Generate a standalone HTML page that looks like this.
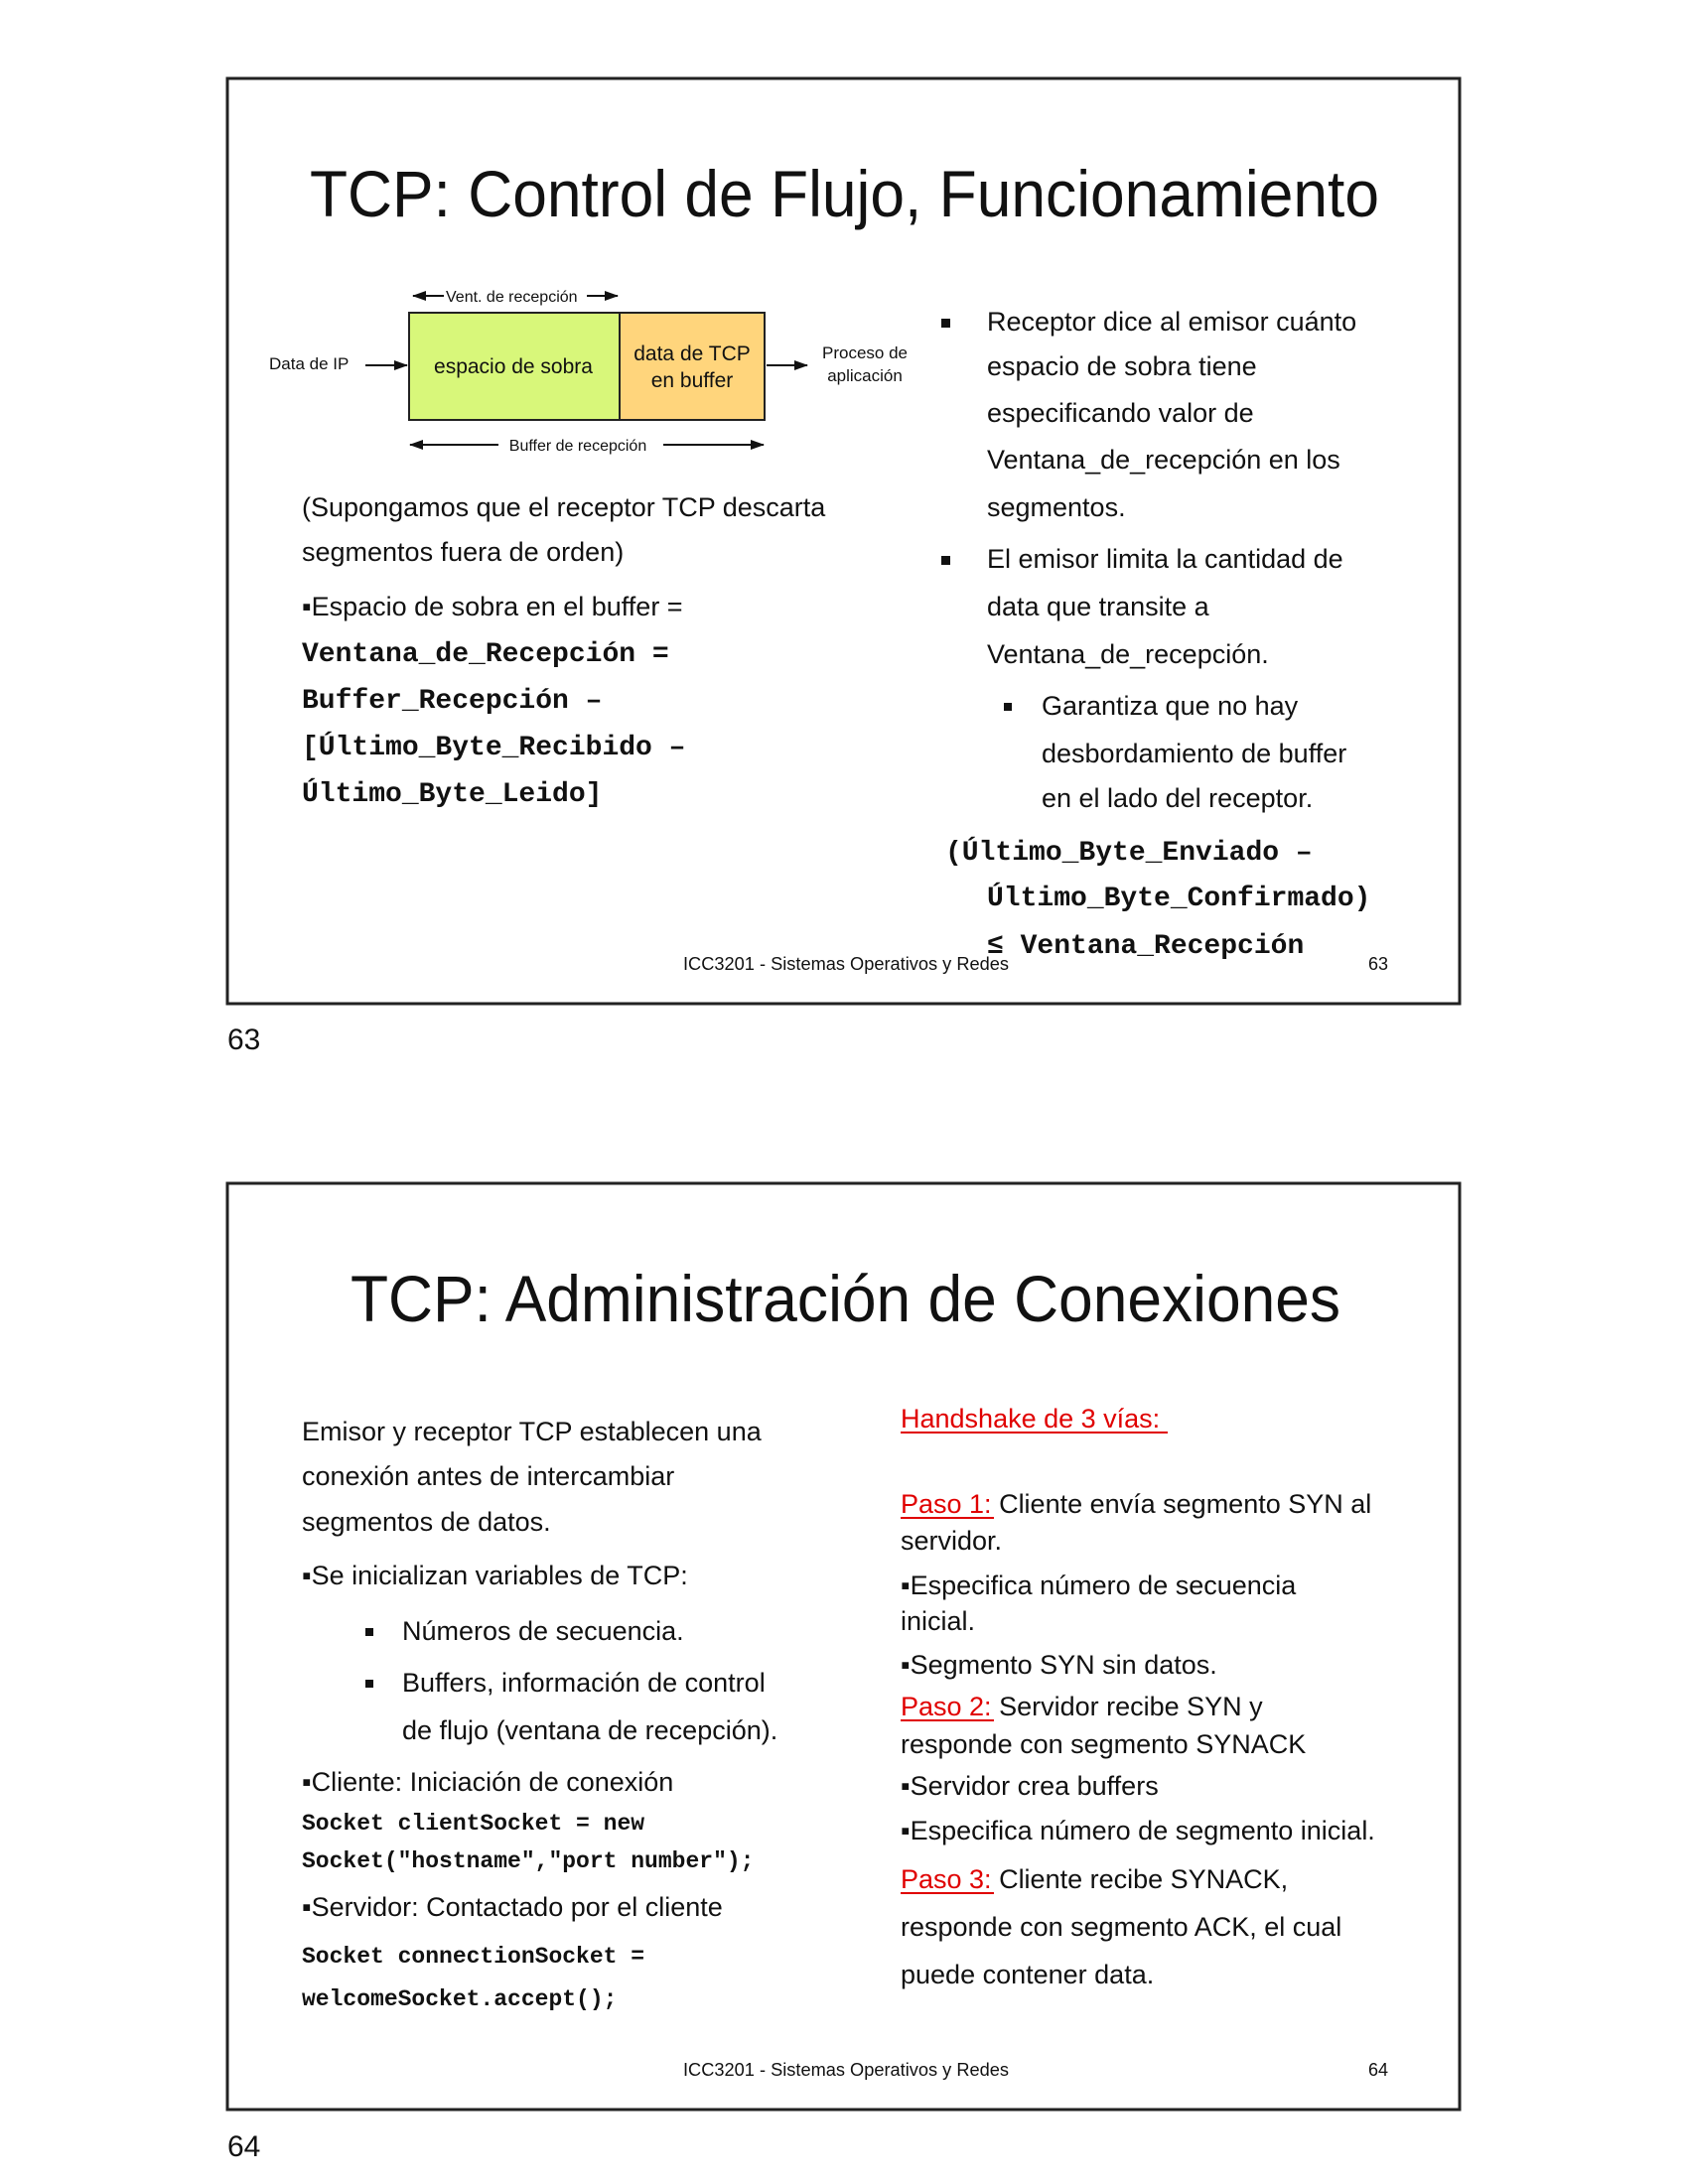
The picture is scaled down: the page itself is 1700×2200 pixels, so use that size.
<!DOCTYPE html>
<html><head><meta charset="utf-8"><style>
html,body{margin:0;padding:0;background:#fff}
svg{display:block}
text{font-family:"Liberation Sans",Arial,sans-serif;fill:#111}
.m{font-family:"Liberation Mono",monospace;font-weight:bold}
.r{fill:#e00000}
</style></head><body>
<svg width="1700" height="2200" viewBox="0 0 1700 2200" xmlns="http://www.w3.org/2000/svg">
<defs>
<marker id="b" markerWidth="14" markerHeight="10" refX="13" refY="5" orient="auto-start-reverse" markerUnits="userSpaceOnUse" viewBox="0 0 14 10"><path d="M0,0 L14,5 L0,10z" fill="#111"/></marker>
</defs>
<!-- Slide 1 -->
<rect x="229" y="79" width="1241" height="932" fill="#fff" stroke="#222" stroke-width="3"/>
<text x="312" y="218" font-size="66" textLength="1077" lengthAdjust="spacingAndGlyphs">TCP: Control de Flujo, Funcionamiento</text>
<line x1="416" y1="298" x2="447" y2="298" stroke="#111" stroke-width="2" marker-start="url(#b)"/>
<text x="449" y="304" font-size="16">Vent. de recepción</text>
<line x1="591" y1="298" x2="622" y2="298" stroke="#111" stroke-width="2" marker-end="url(#b)"/>
<rect x="412" y="315" width="212" height="108" fill="#d8f77a" stroke="#222" stroke-width="2"/>
<rect x="624" y="315" width="146" height="108" fill="#ffd57c" stroke="#222" stroke-width="2"/>
<text x="517" y="376" font-size="21" text-anchor="middle">espacio de sobra</text>
<text x="697" y="363" font-size="21" text-anchor="middle">data de TCP</text>
<text x="697" y="390" font-size="21" text-anchor="middle">en buffer</text>
<text x="271" y="372" font-size="17">Data de IP</text>
<line x1="368" y1="368" x2="410" y2="368" stroke="#111" stroke-width="2" marker-end="url(#b)"/>
<line x1="772" y1="368" x2="813" y2="368" stroke="#111" stroke-width="2" marker-end="url(#b)"/>
<text x="871" y="361" font-size="17" text-anchor="middle">Proceso de</text>
<text x="871" y="384" font-size="17" text-anchor="middle">aplicación</text>
<line x1="413" y1="448" x2="502" y2="448" stroke="#111" stroke-width="2" marker-start="url(#b)"/>
<text x="582" y="454" font-size="16" text-anchor="middle">Buffer de recepción</text>
<line x1="668" y1="448" x2="769" y2="448" stroke="#111" stroke-width="2" marker-end="url(#b)"/>
<g font-size="27">
<text x="304" y="520">(Supongamos que el receptor TCP descarta</text>
<text x="304" y="565">segmentos fuera de orden)</text>
<text x="304" y="620">▪Espacio de sobra en el buffer =</text>
</g>
<g font-size="28">
<text class="m" x="304" y="666">Ventana_de_Recepción =</text>
<text class="m" x="304" y="713">Buffer_Recepción –</text>
<text class="m" x="304" y="760">[Último_Byte_Recibido –</text>
<text class="m" x="304" y="807">Último_Byte_Leido]</text>
</g>
<g font-size="27">
<rect x="948" y="321" width="9" height="9" fill="#111"/>
<text x="994" y="333">Receptor dice al emisor cuánto</text>
<text x="994" y="378">espacio de sobra tiene</text>
<text x="994" y="425">especificando valor de</text>
<text x="994" y="472">Ventana_de_recepción en los</text>
<text x="994" y="520">segmentos.</text>
<rect x="948" y="560" width="9" height="9" fill="#111"/>
<text x="994" y="572">El emisor limita la cantidad de</text>
<text x="994" y="620">data que transite a</text>
<text x="994" y="668">Ventana_de_recepción.</text>
<rect x="1011" y="708" width="8" height="8" fill="#111"/>
<text x="1049" y="720">Garantiza que no hay</text>
<text x="1049" y="768">desbordamiento de buffer</text>
<text x="1049" y="813">en el lado del receptor.</text>
</g>
<g font-size="28">
<text class="m" x="952" y="866">(Último_Byte_Enviado –</text>
<text class="m" x="994" y="912">Último_Byte_Confirmado)</text>
<text class="m" x="994" y="960">≤ Ventana_Recepción</text>
</g>
<text x="688" y="977" font-size="18" textLength="328" lengthAdjust="spacingAndGlyphs">ICC3201 - Sistemas Operativos y Redes</text>
<text x="1378" y="977" font-size="18">63</text>
<text x="229" y="1057" font-size="30">63</text>

<!-- Slide 2 -->
<rect x="229" y="1192" width="1241" height="933" fill="#fff" stroke="#222" stroke-width="3"/>
<text x="353" y="1331" font-size="66" textLength="997" lengthAdjust="spacingAndGlyphs">TCP: Administración de Conexiones</text>
<g font-size="27">
<text x="304" y="1451">Emisor y receptor TCP establecen una</text>
<text x="304" y="1496">conexión antes de intercambiar</text>
<text x="304" y="1542">segmentos de datos.</text>
<text x="304" y="1596">▪Se inicializan variables de TCP:</text>
<rect x="368" y="1640" width="8" height="8" fill="#111"/>
<text x="405" y="1652">Números de secuencia.</text>
<rect x="368" y="1692" width="8" height="8" fill="#111"/>
<text x="405" y="1704">Buffers, información de control</text>
<text x="405" y="1752">de flujo (ventana de recepción).</text>
<text x="304" y="1804">▪Cliente: Iniciación de conexión</text>
<text x="304" y="1930">▪Servidor: Contactado por el cliente</text>
</g>
<g font-size="23">
<text class="m" x="304" y="1843">Socket clientSocket = new</text>
<text class="m" x="304" y="1881">Socket("hostname","port number");</text>
<text class="m" x="304" y="1977">Socket connectionSocket =</text>
<text class="m" x="304" y="2020">welcomeSocket.accept();</text>
</g>
<g font-size="27">
<text class="r" x="907" y="1438">Handshake de 3 vías:</text>
<line x1="907" y1="1443" x2="1176" y2="1443" stroke="#e00000" stroke-width="2"/>
<text x="907" y="1524"><tspan class="r">Paso 1:</tspan> Cliente envía segmento SYN al</text>
<line x1="907" y1="1529" x2="1001" y2="1529" stroke="#e00000" stroke-width="2"/>
<text x="907" y="1561">servidor.</text>
<text x="907" y="1606">▪Especifica número de secuencia</text>
<text x="907" y="1642">inicial.</text>
<text x="907" y="1686">▪Segmento SYN sin datos.</text>
<text x="907" y="1728"><tspan class="r">Paso 2:</tspan> Servidor recibe SYN y</text>
<line x1="907" y1="1733" x2="1001" y2="1733" stroke="#e00000" stroke-width="2"/>
<text x="907" y="1766">responde con segmento SYNACK</text>
<text x="907" y="1808">▪Servidor crea buffers</text>
<text x="907" y="1853">▪Especifica número de segmento inicial.</text>
<text x="907" y="1902"><tspan class="r">Paso 3:</tspan> Cliente recibe SYNACK,</text>
<line x1="907" y1="1907" x2="1001" y2="1907" stroke="#e00000" stroke-width="2"/>
<text x="907" y="1950">responde con segmento ACK, el cual</text>
<text x="907" y="1998">puede contener data.</text>
</g>
<text x="688" y="2091" font-size="18" textLength="328" lengthAdjust="spacingAndGlyphs">ICC3201 - Sistemas Operativos y Redes</text>
<text x="1378" y="2091" font-size="18">64</text>
<text x="229" y="2172" font-size="30">64</text>
</svg>
</body></html>
